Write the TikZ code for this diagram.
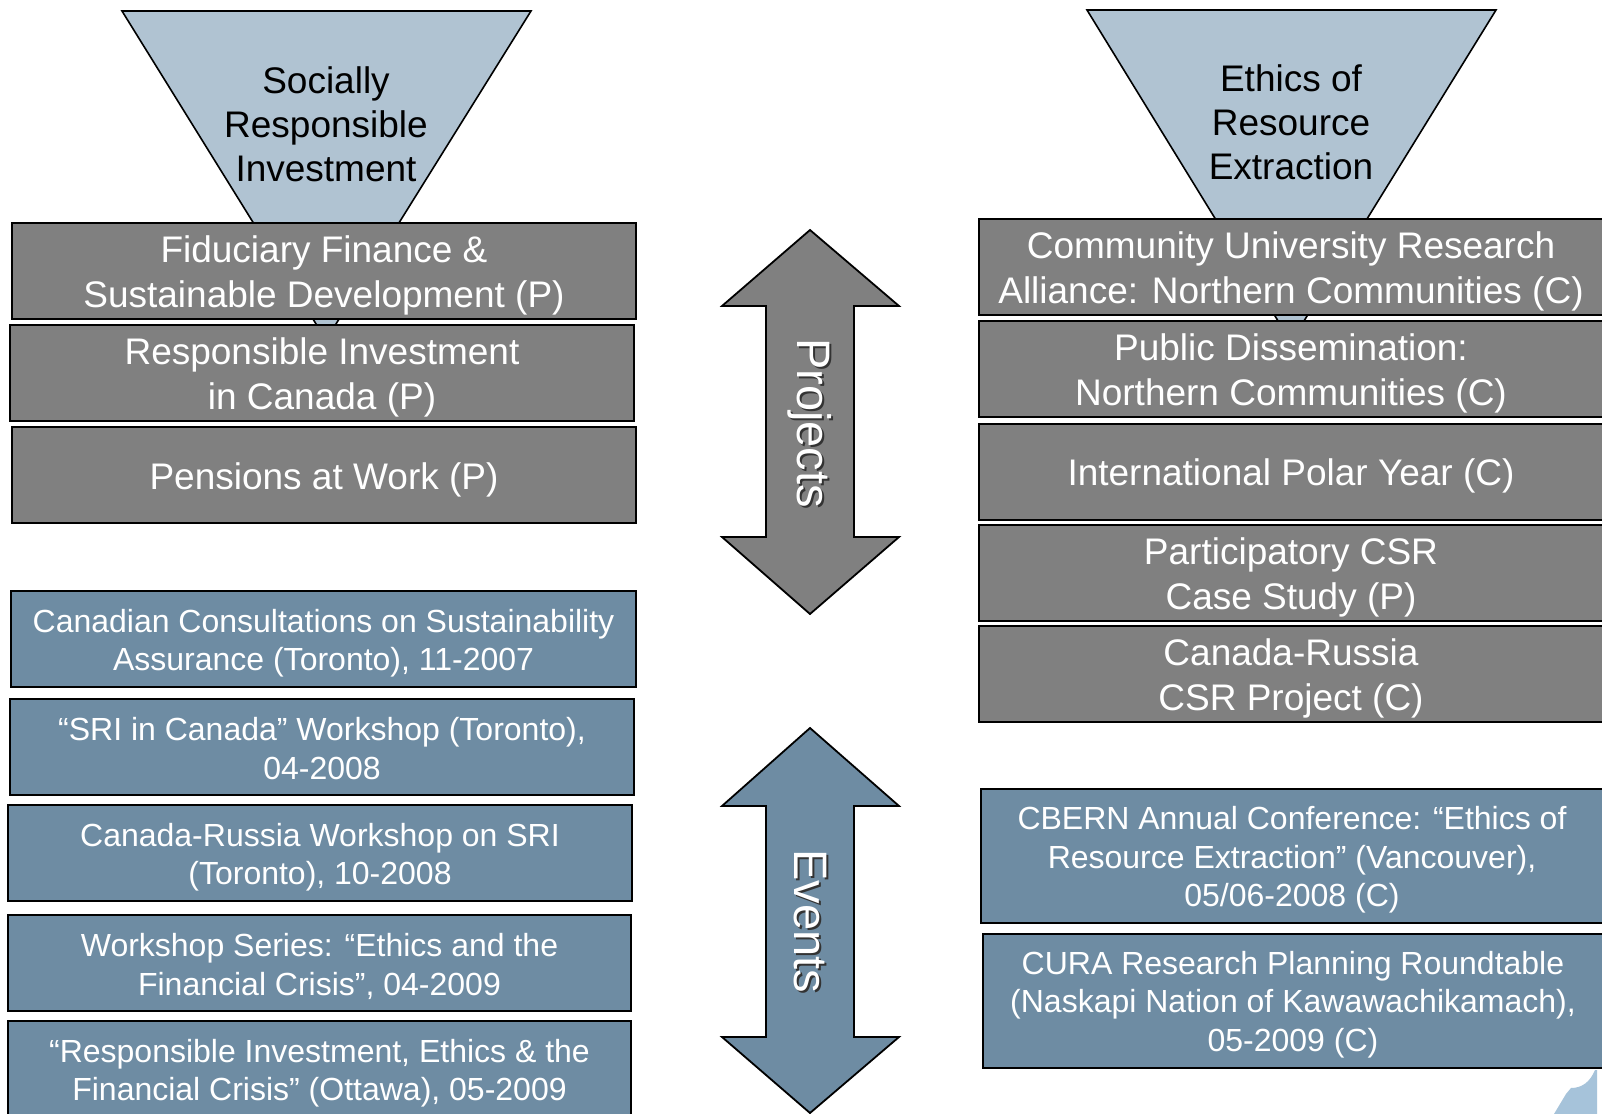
\documentclass[tikz,border=0pt]{standalone}
\usepackage{fontspec}
\setmainfont{Liberation Sans}
\definecolor{boxgrey}{HTML}{808080}
\definecolor{evblue}{HTML}{6E8CA3}
\definecolor{trifill}{HTML}{B0C3D2}
\definecolor{leaf}{HTML}{A6C3DA}
\tikzset{
  pbox/.style={draw=black, line width=1pt, fill=boxgrey,
    minimum width=312pt, minimum height=48pt, inner sep=0pt},
  ebox/.style={draw=black, line width=1pt, fill=evblue,
    minimum width=312pt, minimum height=48pt, inner sep=0pt},
  ptxt/.style={text=white, align=center, inner sep=0pt,
    font=\fontsize{18.5}{22.5}\selectfont},
  etxt/.style={text=white, align=center, inner sep=0pt,
    font=\fontsize{16}{19.2}\selectfont},
  tri/.style={draw=black, line width=0.8pt, fill=trifill},
  tritext/.style={align=center, text=black, inner sep=0pt, font=\fontsize{18.5}{22}\selectfont},
  bigarrow/.style={draw=black, line width=0.9pt},
  arrtext/.style={rotate=-90, inner sep=0pt, text=white, font=\fontsize{23.5}{26}\selectfont},
  arrshadow/.style={rotate=-90, inner sep=0pt, text=black!80, font=\fontsize{23.5}{26}\selectfont}
}
\begin{document}
\begin{tikzpicture}[x=0.5pt,y=-0.5pt]
\useasboundingbox (0,0) rectangle (1602,1114);
\fill[white] (0,0) rectangle (1602,1114);

% triangles
\draw[tri] (122,11) -- (531,11) -- (326,340) -- cycle;
\node[tritext] (sri) at (326,124) {Socially\\Responsible\\Investment};
\draw[tri] (1087,10) -- (1496,10) -- (1291,342) -- cycle;
\node[tritext] (ere) at (1291,122) {Ethics of\\Resource\\Extraction};

% left project boxes
\node[pbox] (p1) at (324,271) {};
\node[ptxt] (p1t) at ([yshift=-2.3pt]p1.center) {Fiduciary Finance \&\\Sustainable Development (P)};
\node[pbox] (p2) at (322,373) {};
\node[ptxt] (p2t) at ([yshift=-2.3pt]p2.center) {Responsible Investment\\in Canada (P)};
\node[pbox] (p3) at (324,475) {};
\node[ptxt] (p3t) at ([yshift=-2.3pt]p3.center) {Pensions at Work (P)};

% right project boxes
\node[pbox] (q1) at (1291,267) {};
\node[ptxt] (q1t) at ([yshift=-2.3pt]q1.center) {Community University Research\\Alliance: Northern Communities (C)};
\node[pbox] (q2) at (1291,369) {};
\node[ptxt] (q2t) at ([yshift=-2.3pt]q2.center) {Public Dissemination:\\Northern Communities (C)};
\node[pbox] (q3) at (1291,471.5) {};
\node[ptxt] (q3t) at ([yshift=-2.3pt]q3.center) {International Polar Year (C)};
\node[pbox] (q4) at (1291,573) {};
\node[ptxt] (q4t) at ([yshift=-2.3pt]q4.center) {Participatory CSR\\Case Study (P)};
\node[pbox] (q5) at (1291,674) {};
\node[ptxt] (q5t) at ([yshift=-2.3pt]q5.center) {Canada-Russia\\CSR Project (C)};

% left event boxes
\node[ebox, minimum width=312.5pt] (e1) at (323.5,639) {};
\node[etxt] (e1t) at ([yshift=-2.2pt]e1.center) {Canadian Consultations on Sustainability\\Assurance (Toronto), 11-2007};
\node[ebox] (e2) at (322,746.5) {};
\node[etxt] (e2t) at ([yshift=-1pt]e2.center) {“SRI in Canada” Workshop (Toronto),\\04-2008};
\node[ebox] (e3) at (320,853) {};
\node[etxt] (e3t) at ([yshift=-2pt]e3.center) {Canada-Russia Workshop on SRI\\(Toronto), 10-2008};
\node[ebox, minimum width=311.5pt] (e4) at (319.5,963) {};
\node[etxt] (e4t) at ([yshift=-1.7pt]e4.center) {Workshop Series: “Ethics and the\\Financial Crisis”, 04-2009};
\node[ebox, minimum width=311.5pt] (e5) at (319.5,1069) {};
\node[etxt] (e5t) at ([yshift=-2pt]e5.center) {“Responsible Investment, Ethics \& the\\Financial Crisis” (Ottawa), 05-2009};

% right event boxes
\node[ebox, minimum width=311pt, minimum height=67pt] (f1) at (1292,856) {};
\node[etxt] (f1t) at ([yshift=-2pt]f1.center) {CBERN Annual Conference: “Ethics of\\Resource Extraction” (Vancouver),\\05/06-2008 (C)};
\node[ebox, minimum width=310pt, minimum height=67pt] (f2) at (1293,1001) {};
\node[etxt] (f2t) at ([yshift=-1.8pt]f2.center) {CURA Research Planning Roundtable\\(Naskapi Nation of Kawawachikamach),\\05-2009 (C)};

% projects arrow
\draw[bigarrow, fill=boxgrey] (810,230) -- (899,306) -- (854,306) -- (854,537) -- (899,537)
  -- (810,614) -- (722,537) -- (766,537) -- (766,306) -- (722,306) -- cycle;
\node[arrshadow] (projs) at (812,425) {Projects};
\node[arrtext] (proj) at (810,423) {Projects};

% events arrow
\draw[bigarrow, fill=evblue] (810,728) -- (899,806) -- (854,806) -- (854,1037) -- (899,1037)
  -- (810,1113) -- (722,1037) -- (766,1037) -- (766,806) -- (722,806) -- cycle;
\node[arrshadow] (evs) at (812,923) {Events};
\node[arrtext] (ev) at (810,921) {Events};

% partial logo in the corner
\fill[leaf] (1554,1114) -- (1566,1094) -- (1571,1088) .. controls (1582,1088) and (1590,1082) .. (1595,1070)
  -- (1597,1070) -- (1597,1114) -- cycle;
\end{tikzpicture}
\end{document}
